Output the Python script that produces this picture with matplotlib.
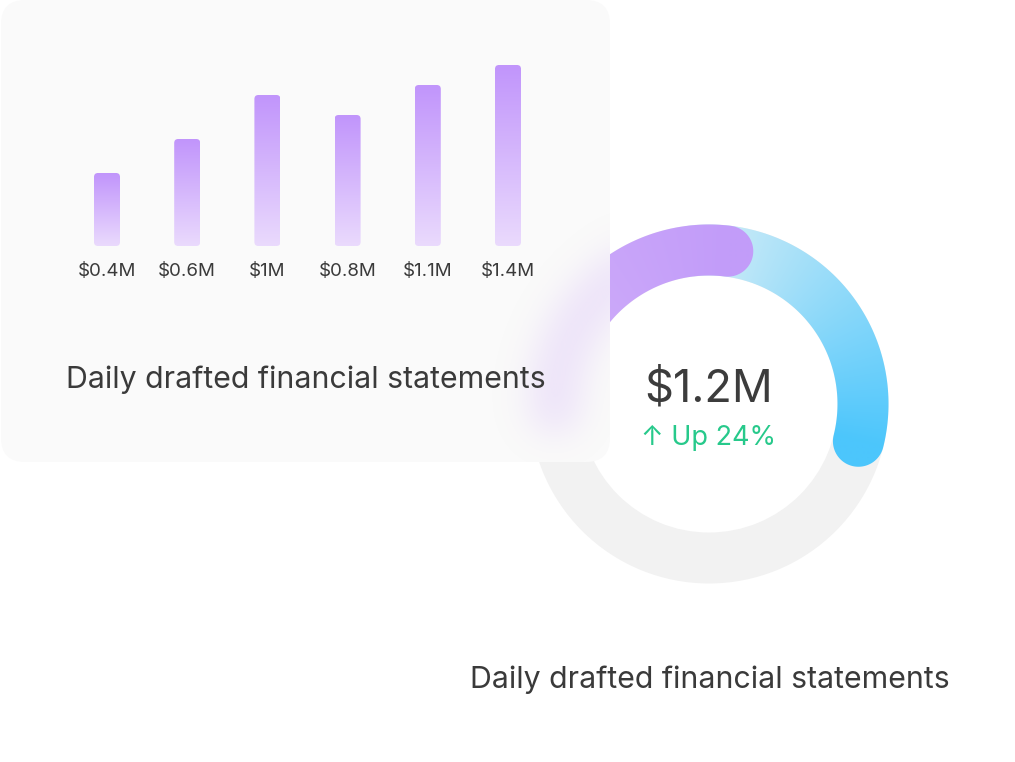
import matplotlib.pyplot as plt
import numpy as np
from matplotlib.patches import FancyBboxPatch, PathPatch, Wedge
from matplotlib.path import Path
from matplotlib.colors import to_rgb

plt.rcParams['font.family'] = ['Inter', 'DejaVu Sans']

# data
bar_labels = ['$0.4M', '$0.6M', '$1M', '$0.8M', '$1.1M', '$1.4M']
bar_heights = [73, 107, 151, 131, 161, 181]   # relative bar heights as drawn
total_value = '$1.2M'
change_text = '\u2191 Up 24%'
title = 'Daily drafted financial statements'
arc_purple = (182, 83)     # degrees, start -> end (clockwise)
arc_blue = (96, -14)

W, H = 1015, 762
def fy(y):
    return H - y

fig = plt.figure(figsize=(10.15, 7.62), dpi=100)
ax = fig.add_axes([0, 0, 1, 1])
ax.set_xlim(0, W)
ax.set_ylim(0, H)
ax.axis('off')

cx, cy = 709, fy(404)
r_mid, ring_w = 154, 51


def arc_path(a0, a1, n=200):
    ts = np.radians(np.linspace(a0, a1, n))
    ro, ri, hw = r_mid + ring_w / 2, r_mid - ring_w / 2, ring_w / 2
    outer = np.c_[cx + ro * np.cos(ts), cy + ro * np.sin(ts)]
    e = np.radians(a1)
    ph = np.linspace(e, e - np.pi, 60)
    cap1 = np.c_[cx + r_mid * np.cos(e) + hw * np.cos(ph), cy + r_mid * np.sin(e) + hw * np.sin(ph)]
    inner = np.c_[cx + ri * np.cos(ts[::-1]), cy + ri * np.sin(ts[::-1])]
    s = np.radians(a0)
    ph = np.linspace(s + np.pi, s, 60)
    cap0 = np.c_[cx + r_mid * np.cos(s) + hw * np.cos(ph), cy + r_mid * np.sin(s) + hw * np.sin(ph)]
    pts = np.vstack([outer, cap1, inner, cap0, outer[:1]])
    return Path(pts, closed=True)


def grad_arc(a0, a1, c0, c1, z):
    p = arc_path(a0, a1)
    patch = PathPatch(p, fc='none', ec='none', transform=ax.transData)
    ax.add_patch(patch)
    xs = np.arange(cx - 185, cx + 186)
    ys = np.arange(cy - 185, cy + 186)
    X, Y = np.meshgrid(xs, ys)
    th = np.degrees(np.arctan2(Y - cy, X - cx))
    if a0 > 180:
        th = th % 360
    t = np.clip((a0 - th) / (a0 - a1), 0, 1)[..., None]
    img = np.array(to_rgb(c0)) * (1 - t) + np.array(to_rgb(c1)) * t
    im = ax.imshow(img, extent=(xs[0], xs[-1], ys[0], ys[-1]), origin='lower',
                   zorder=z, interpolation='bilinear')
    im.set_clip_path(patch)
    return p


# donut
ax.add_patch(Wedge((cx, cy), r_mid + ring_w / 2, 0, 360, width=ring_w, fc='#f2f2f2', ec='none', zorder=1))
grad_arc(arc_blue[0], arc_blue[1], '#d6eef7', '#4cc6fc', 2)
purple_path = grad_arc(arc_purple[0], arc_purple[1], '#d3b2fa', '#c29cf9', 2.5)
ax.set_aspect('auto')

# frosted card
card = FancyBboxPatch((1, fy(462)), 609, 462, boxstyle='round,pad=0,rounding_size=24',
                      fc='#fafafa', ec='none', zorder=3)
ax.add_patch(card)

# blurred purple arc seen through the card
gx = np.arange(380, 640)
gy = np.arange(fy(500), fy(150))
GX, GY = np.meshgrid(gx, gy)
mask = purple_path.contains_points(np.c_[GX.ravel(), GY.ravel()]).reshape(GX.shape).astype(float)
s = 18
k = np.arange(-3 * s, 3 * s + 1)
g = np.exp(-k ** 2 / (2 * s * s))
g /= g.sum()
mask = np.apply_along_axis(lambda m: np.convolve(m, g, mode='same'), 0, mask)
mask = np.apply_along_axis(lambda m: np.convolve(m, g, mode='same'), 1, mask)
glow = np.zeros(mask.shape + (4,))
glow[..., :3] = to_rgb('#c7a0f8')
glow[..., 3] = mask * 0.26
gim = ax.imshow(glow, extent=(gx[0], gx[-1], gy[0], gy[-1]), origin='lower', zorder=4,
                interpolation='bilinear')
gim.set_clip_path(card)
ax.set_aspect('auto')

# bars
base = fy(246)
bw, x0, step = 26, 107, 80.2
xpos = x0 + step * np.arange(len(bar_heights))
bars = ax.bar(xpos, bar_heights, width=bw, bottom=base, color='none', zorder=5)
top_c, bot_c = np.array(to_rgb('#c195fb')), np.array(to_rgb('#eadafd'))
for b in bars:
    bx, by = b.get_x(), b.get_y()
    bh = b.get_height()
    rp = FancyBboxPatch((bx, by), bw, bh, boxstyle='round,pad=0,rounding_size=4',
                        fc='none', ec='none', zorder=5)
    ax.add_patch(rp)
    t = np.linspace(0, 1, 100)[:, None, None]
    col = bot_c * (1 - t) + top_c * t
    im = ax.imshow(col, extent=(bx, bx + bw, by, by + bh), origin='lower', zorder=5,
                   interpolation='bilinear')
    im.set_clip_path(rp)
ax.set_aspect('auto')

for xp, lab in zip(xpos, bar_labels):
    ax.text(xp, fy(272), lab, ha='center', va='center', fontsize=13.5, color='#3a3a3a', zorder=6)

ax.text(66, fy(380), title, ha='left', va='center', fontsize=21.8, color='#3a3a3a', zorder=6)
ax.text(470, fy(680), title, ha='left', va='center', fontsize=21.8, color='#3a3a3a', zorder=6)

ax.text(cx, fy(389), total_value, ha='center', va='center', fontsize=32.5, color='#3c3c3c', zorder=6)
ax.text(cx, fy(438), change_text, ha='center', va='center', fontsize=19.5, color='#27c98b', zorder=6)

ax.set_xlim(0, W)
ax.set_ylim(0, H)
fig.savefig('out.png', dpi=100)
